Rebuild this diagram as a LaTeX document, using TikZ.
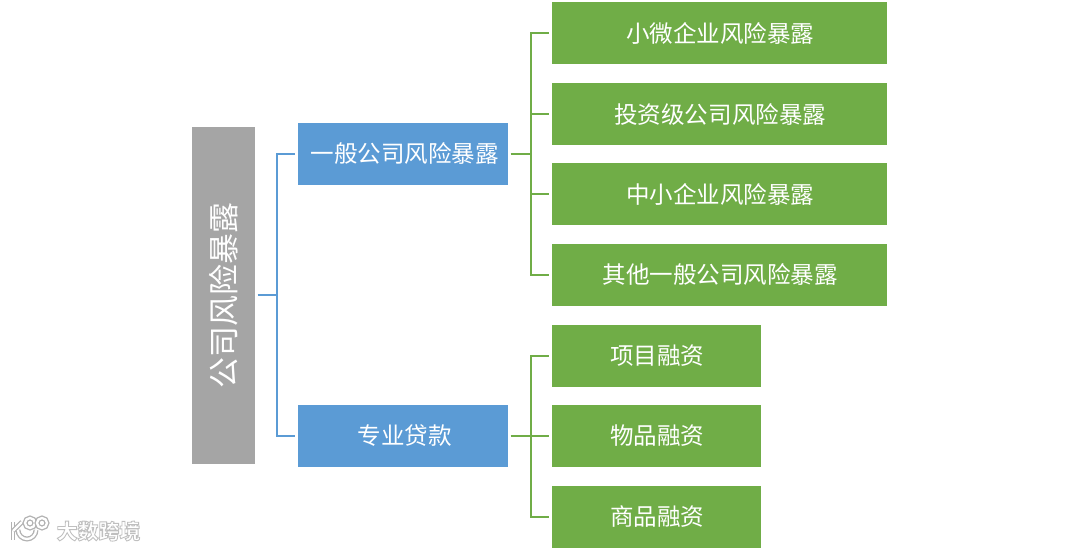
\documentclass[tikz,border=0pt]{standalone}
\usepackage{fontspec}
\setmainfont{Noto Sans CJK SC}
\definecolor{riskgray}{HTML}{A5A5A5}
\definecolor{riskblue}{HTML}{5B9BD5}
\definecolor{riskgreen}{HTML}{70AD47}
\tikzstyle{box} = [inner sep=0pt, outer sep=1.5pt, text=white, font=\fontsize{13.4pt}{16pt}\selectfont]
\tikzstyle{rootbox} = [box, fill=riskgray, minimum width=1.26cm, minimum height=6.74cm]
\tikzstyle{midbox} = [box, fill=riskblue, minimum width=4.2cm, minimum height=1.24cm, execute at begin node=\hspace*{0.07cm}]
\tikzstyle{widebox} = [box, fill=riskgreen, minimum width=6.7cm, minimum height=1.24cm, execute at begin node=\hspace*{0.03cm}]
\tikzstyle{narrowbox} = [box, fill=riskgreen, minimum width=4.18cm, minimum height=1.24cm, execute at begin node=\hspace*{0.03cm}]
\tikzstyle{bluelink} = [line width=1.2pt, riskblue]
\tikzstyle{greenlink} = [line width=1.2pt, riskgreen]
\tikzstyle{marktext} = [text=white, font=\fontsize{11.9pt}{14pt}\selectfont\bfseries]
\tikzstyle{marklogo} = [white, line width=1.3pt, preaction={draw=black!30, line width=2.8pt}]

\begin{document}
\begin{tikzpicture}[x=0.02cm,y=-0.02cm]
			\useasboundingbox (0,0) rectangle (1080,550);
			\node[rootbox] (risk) at (223.5,295.5) {};
			\node[rotate=90, text=white, font=\fontsize{17.6pt}{20pt}\selectfont] (risktext) at (223.5,295.5) {公司风险暴露};
			\node[midbox] (general) at (403,154) {一般公司风险暴露};
			\node[midbox] (special) at (403,436) {专业贷款};
			\node[widebox] (small) at (719.5,33) {小微企业风险暴露};
			\node[widebox] (invest) at (719.5,114) {投资级公司风险暴露};
			\node[widebox] (medium) at (719.5,194) {中小企业风险暴露};
			\node[widebox] (other) at (719.5,275) {其他一般公司风险暴露};
			\node[narrowbox] (project) at (656.5,356) {项目融资};
			\node[narrowbox] (goods) at (656.5,436) {物品融资};
			\node[narrowbox] (commodity) at (656.5,517) {商品融资};
			\coordinate (rootbend) at (277,295);
			\coordinate (generalbend) at (531,154);
			\coordinate (specialbend) at (531,436);
			\draw[bluelink] (risk.east |- rootbend) -- (rootbend);
			\foreach \target in {general,special}
				\draw[bluelink] (rootbend) |- (\target.west);
			\draw[greenlink] (general.east) -- (generalbend);
			\foreach \target in {small,invest,medium,other}
				\draw[greenlink] (generalbend) |- (\target.west);
			\draw[greenlink] (special.east) -- (specialbend);
			\foreach \target in {project,goods,commodity}
				\draw[greenlink] (specialbend) |- (\target.west);
			% watermark
			\node[marktext] (mark) at (98.5,531) {\special{pdf:code q 2 Tr 0.5 w 0.75 G}大数跨境\special{pdf:code Q}};
			\draw[marklogo] (13,522) -- (13,540);
			\draw[marklogo] (13,531) -- (22,522);
			\draw[marklogo] (18,530) arc (180:0:9);
			\draw[marklogo] (30,523) circle (5);
			\draw[marklogo] (42,523) circle (5);
		\end{tikzpicture}
\end{document}
